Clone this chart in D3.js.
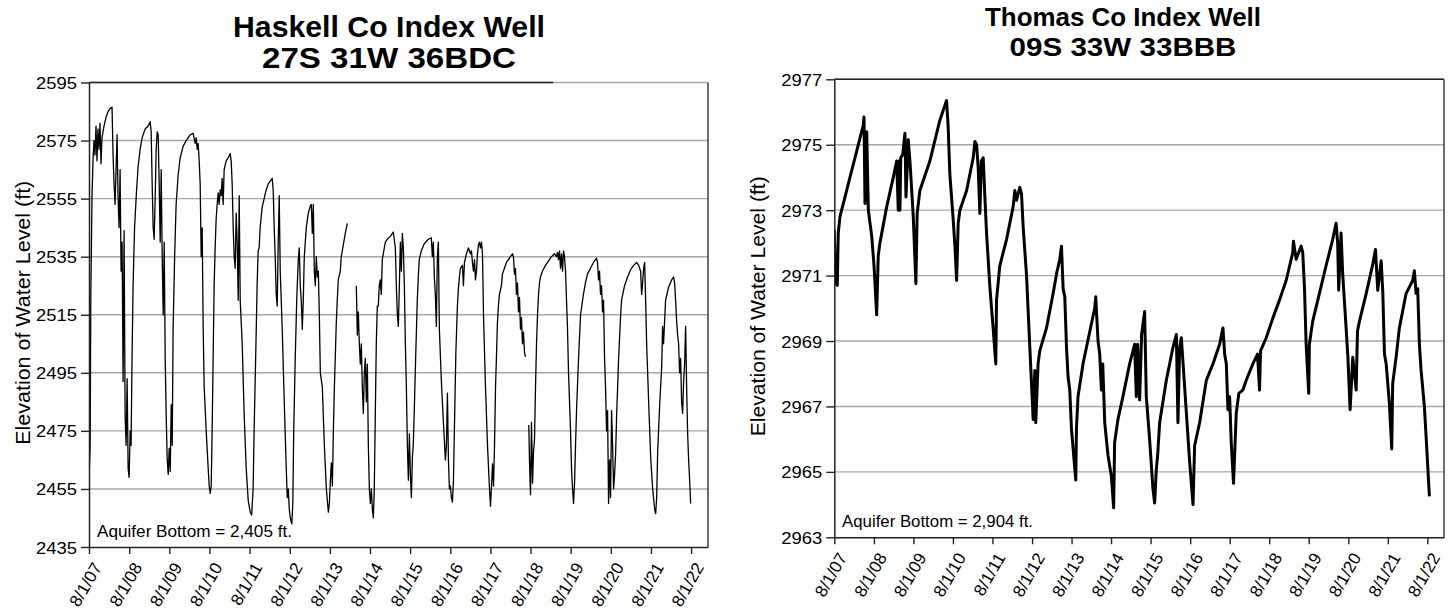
<!DOCTYPE html>
<html>
<head>
<meta charset="utf-8">
<script src="https://cdn.jsdelivr.net/npm/d3@7"></script>
<style>
  body { margin: 0; background: #fff; }
  svg { display: block; }
  text { font-family: "Liberation Sans", Arial, sans-serif; fill: #000; }
</style>
</head>
<body>
<svg id="chart" width="1453" height="611"></svg>
<script>
// ---------------- DATA ----------------
const xTickLabels = ["8/1/07","8/1/08","8/1/09","8/1/10","8/1/11","8/1/12","8/1/13","8/1/14",
                     "8/1/15","8/1/16","8/1/17","8/1/18","8/1/19","8/1/20","8/1/21","8/1/22"];
const xTickYears = [2007,2008,2009,2010,2011,2012,2013,2014,2015,2016,2017,2018,2019,2020,2021,2022];

const haskellYTicks = [2435,2455,2475,2495,2515,2535,2555,2575,2595];
const thomasYTicks  = [2963,2965,2967,2969,2971,2973,2975,2977];

const haskellTitle = ["Haskell Co Index Well", "27S 31W 36BDC"];
const thomasTitle  = ["Thomas Co Index Well", "09S 33W 33BBB"];
const yAxisTitle   = "Elevation of Water Level (ft)";
const haskellNote  = "Aquifer Bottom = 2,405 ft.";
const thomasNote   = "Aquifer Bottom = 2,904 ft.";

// [decimal year, water level elevation ft]  (null = no record)
const haskellReadings = [
[2007.580,2474],[2007.590,2462],[2007.600,2466],[2007.610,2470],[2007.625,2520],[2007.655,2555],[2007.680,2568],[2007.705,2575],[2007.730,2570],[2007.755,2580],[2007.780,2568],[2007.805,2579],[2007.830,2572],[2007.855,2581],[2007.880,2567],[2007.905,2576],[2007.930,2578],[2007.955,2580],[2008.005,2583],[2008.055,2585],[2008.105,2586],[2008.155,2586.5],[2008.180,2570],[2008.205,2560],[2008.230,2553],[2008.255,2565],[2008.280,2577],[2008.305,2555],[2008.330,2545],[2008.355,2565],[2008.380,2530],[2008.405,2540],[2008.430,2492],[2008.455,2544],[2008.480,2480],[2008.505,2470],[2008.530,2493],[2008.555,2462],[2008.580,2459],[2008.605,2475],[2008.628,2470],
[2008.652,2500],[2008.678,2525],[2008.715,2545],[2008.765,2558],[2008.803,2566],[2008.853,2572],[2008.903,2576],[2008.978,2579],[2009.053,2580],[2009.103,2581.5],[2009.128,2578],[2009.153,2560],[2009.178,2545],[2009.203,2541],[2009.228,2555],[2009.253,2572],[2009.278,2578],[2009.303,2577],[2009.328,2560],[2009.353,2540],[2009.378,2565],[2009.403,2535],[2009.428,2515],[2009.453,2540],[2009.478,2500],[2009.503,2480],[2009.528,2465],[2009.553,2460],[2009.578,2469],[2009.603,2461],[2009.628,2484],[2009.653,2470],
[2009.675,2510],[2009.713,2535],[2009.750,2553],[2009.800,2563],[2009.850,2569],[2009.925,2573],[2010.000,2575],[2010.100,2577],[2010.175,2577.5],[2010.225,2574],[2010.250,2576],[2010.275,2572],[2010.300,2574],[2010.325,2568],[2010.350,2560],[2010.375,2535],[2010.400,2545],[2010.425,2510],[2010.450,2490],[2010.500,2475],[2010.550,2462],[2010.575,2456],[2010.600,2453.5],[2010.625,2456],
[2010.648,2475],[2010.673,2500],[2010.698,2525],[2010.723,2538],[2010.748,2548],[2010.773,2553],[2010.798,2557],[2010.823,2553],[2010.848,2558],[2010.873,2556],[2010.898,2562],[2010.923,2553],[2010.948,2565],[2010.998,2568],[2011.048,2569],[2011.098,2570.5],[2011.123,2568],[2011.148,2560],[2011.173,2545],[2011.198,2535],[2011.223,2531],[2011.248,2550],[2011.273,2540],[2011.298,2520],[2011.323,2556],[2011.348,2520],[2011.398,2505],[2011.448,2480],[2011.498,2462],[2011.548,2451],[2011.598,2447],[2011.633,2446],
[2011.670,2455],[2011.695,2475],[2011.733,2500],[2011.770,2525],[2011.795,2537],[2011.820,2538],[2011.845,2545],[2011.895,2552],[2011.945,2555],[2011.995,2558],[2012.045,2560],[2012.095,2561],[2012.145,2562],[2012.170,2558],[2012.195,2545],[2012.220,2535],[2012.245,2522],[2012.270,2518],[2012.295,2540],[2012.320,2556],[2012.345,2530],[2012.395,2510],[2012.445,2485],[2012.495,2462],[2012.520,2452],[2012.545,2455],[2012.570,2448],[2012.595,2445],[2012.633,2443],[2012.658,2450],
[2012.680,2475],[2012.718,2500],[2012.755,2520],[2012.793,2534],[2012.818,2538],[2012.843,2525],[2012.868,2520],[2012.893,2510],[2012.918,2520],[2012.943,2535],[2012.993,2545],[2013.043,2550],[2013.093,2552.5],[2013.118,2553],[2013.143,2543],[2013.168,2553],[2013.193,2530],[2013.218,2525],[2013.243,2535],[2013.268,2528],[2013.293,2530],[2013.318,2515],[2013.343,2495],[2013.393,2490],[2013.443,2470],[2013.493,2455],[2013.543,2447],[2013.568,2450],[2013.593,2458],[2013.618,2464],[2013.643,2456],[2013.668,2475],[2013.693,2490],
[2013.715,2500],[2013.740,2512],[2013.765,2520],[2013.790,2527],[2013.840,2530],[2013.865,2535],[2013.915,2539],[2013.965,2543],[2014.015,2546.5],[2014.100,null],[2014.240,2525],[2014.265,2508],[2014.290,2516],[2014.315,2505],[2014.340,2498],[2014.365,2505],[2014.390,2490],[2014.415,2481],[2014.440,2495],[2014.465,2500],[2014.490,2485],[2014.515,2498],[2014.540,2470],[2014.565,2455],[2014.590,2450],[2014.615,2455],[2014.640,2448],[2014.665,2445],
[2014.688,2455],[2014.713,2480],[2014.738,2505],[2014.763,2518],[2014.788,2518],[2014.813,2525],[2014.838,2527],[2014.863,2522],[2014.888,2534],[2014.913,2536],[2014.938,2538],[2014.963,2540],[2015.013,2541],[2015.088,2542],[2015.163,2543.5],[2015.213,2538],[2015.238,2525],[2015.263,2515],[2015.288,2511],[2015.313,2525],[2015.338,2540],[2015.363,2530],[2015.388,2543],[2015.413,2538],[2015.438,2525],[2015.463,2505],[2015.488,2490],[2015.513,2470],[2015.538,2458],[2015.563,2474],[2015.588,2460],[2015.613,2452],[2015.638,2466],
[2015.660,2470],[2015.685,2482],[2015.723,2502],[2015.760,2520],[2015.785,2528],[2015.810,2534],[2015.860,2537],[2015.935,2539.5],[2016.035,2541],[2016.110,2541.5],[2016.135,2535],[2016.160,2540],[2016.185,2528],[2016.210,2522],[2016.235,2511],[2016.260,2535],[2016.285,2540],[2016.310,2510],[2016.360,2492],[2016.410,2478],[2016.460,2465],[2016.485,2470],[2016.510,2488],[2016.535,2465],[2016.560,2455],[2016.585,2456],[2016.610,2452],[2016.635,2450.5],[2016.660,2458],
[2016.683,2475],[2016.720,2502],[2016.758,2518],[2016.783,2524],[2016.808,2528],[2016.833,2531],[2016.883,2532],[2016.908,2525],[2016.933,2533],[2016.983,2536],[2017.033,2538],[2017.083,2536],[2017.108,2537],[2017.133,2533],[2017.158,2530],[2017.183,2534],[2017.208,2527],[2017.233,2530],[2017.258,2536],[2017.283,2539],[2017.308,2540],[2017.333,2538],[2017.358,2540],[2017.383,2536],[2017.408,2515],[2017.458,2490],[2017.508,2470],[2017.558,2455],[2017.583,2449],[2017.608,2456],[2017.633,2463.6],[2017.658,2456],[2017.683,2470],[2017.708,2490],
[2017.730,2500],[2017.755,2512],[2017.780,2518],[2017.805,2522],[2017.830,2523.5],[2017.855,2525],[2017.880,2529],[2017.930,2531],[2017.980,2533],[2018.030,2534],[2018.080,2535],[2018.130,2536],[2018.155,2535],[2018.180,2529],[2018.205,2531],[2018.230,2522],[2018.255,2526],[2018.280,2516],[2018.305,2521],[2018.330,2510],[2018.355,2514],[2018.380,2505],[2018.405,2509],[2018.430,2502],[2018.455,2500.5],[2018.490,null],[2018.538,2477],[2018.555,2465],[2018.580,2453],[2018.605,2478],[2018.630,2457],[2018.655,2468],[2018.680,2472],[2018.705,2490],[2018.730,2505],[2018.755,2515],[2018.780,2522],[2018.805,2526],
[2018.828,2528],[2018.878,2530],[2018.953,2532],[2019.028,2533.5],[2019.103,2535],[2019.178,2536],[2019.228,2535],[2019.253,2536.5],[2019.278,2534],[2019.303,2537],[2019.328,2531],[2019.353,2536],[2019.378,2530],[2019.403,2537],[2019.428,2535],[2019.453,2530],[2019.478,2520],[2019.503,2510],[2019.528,2495],[2019.553,2485],[2019.578,2475],[2019.603,2462],[2019.628,2455],[2019.653,2450],[2019.678,2457],[2019.703,2470],[2019.728,2482],[2019.778,2500],[2019.828,2515],
[2019.900,2522],[2019.950,2526],[2020.000,2529],[2020.075,2531],[2020.150,2533],[2020.225,2534.5],[2020.250,2533],[2020.275,2527],[2020.300,2530],[2020.325,2522],[2020.350,2525],[2020.375,2516],[2020.400,2520],[2020.425,2500],[2020.450,2490],[2020.475,2475],[2020.500,2482],[2020.525,2450],[2020.550,2465],[2020.575,2452],[2020.600,2482],[2020.625,2470],[2020.650,2455],[2020.675,2460],[2020.700,2467],[2020.725,2480],[2020.775,2500],[2020.825,2515],
[2020.848,2520],[2020.923,2525],[2020.998,2528],[2021.073,2530.5],[2021.148,2532],[2021.223,2533],[2021.273,2532],[2021.323,2530],[2021.348,2522],[2021.373,2526],[2021.398,2531],[2021.423,2533],[2021.448,2520],[2021.473,2505],[2021.523,2485],[2021.573,2466],[2021.623,2455],[2021.673,2448],[2021.698,2446.5],[2021.723,2452],[2021.748,2468],[2021.798,2484],[2021.848,2497],
[2021.870,2511],[2021.895,2505],[2021.945,2520],[2022.020,2524.5],[2022.095,2527],[2022.145,2528],[2022.170,2526],[2022.195,2520],[2022.220,2513],[2022.245,2508],[2022.270,2505],[2022.295,2495],[2022.320,2500],[2022.345,2485],[2022.370,2481],[2022.395,2492],[2022.420,2498],[2022.445,2511],[2022.470,2490],[2022.495,2474],[2022.520,2465],[2022.545,2458],[2022.570,2450]
];

const thomasReadings = [
[2007.580,2972.4],[2007.598,2971.5],[2007.623,2970.8],[2007.656,2970.7],[2007.681,2972.3],[2007.724,2972.8],[2007.851,2973.4],[2007.977,2974.0],[2008.104,2974.6],[2008.230,2975.2],[2008.314,2975.6],[2008.332,2975.85],[2008.357,2973.2],[2008.400,2975.4],[2008.441,2973.0],[2008.527,2972.2],[2008.585,2971.3],[2008.651,2969.8],
[2008.691,2971.6],[2008.734,2972.0],[2008.904,2973.1],[2009.071,2974.0],[2009.157,2974.5],[2009.197,2973.0],[2009.215,2974.5],[2009.240,2973.0],[2009.260,2974.6],[2009.309,2974.7],[2009.367,2975.35],[2009.392,2973.4],[2009.450,2975.15],[2009.493,2974.5],[2009.577,2972.8],[2009.643,2970.75],
[2009.676,2972.9],[2009.744,2973.6],[2009.997,2974.5],[2010.250,2975.75],[2010.420,2976.35],[2010.460,2975.55],[2010.503,2974.1],[2010.588,2972.7],[2010.631,2971.9],[2010.674,2970.85],
[2010.714,2972.6],[2010.757,2973.0],[2010.927,2973.6],[2011.094,2974.6],[2011.137,2975.1],[2011.180,2975.0],[2011.220,2974.3],[2011.263,2972.9],[2011.300,2974.5],[2011.347,2974.6],[2011.390,2973.4],[2011.432,2972.3],[2011.516,2970.65],[2011.598,2969.4],[2011.666,2968.3],
[2011.684,2970.25],[2011.767,2971.3],[2011.937,2972.1],[2012.104,2973.1],[2012.147,2973.6],[2012.190,2973.3],[2012.273,2973.7],[2012.316,2973.5],[2012.357,2972.5],[2012.443,2971.0],[2012.526,2968.8],[2012.610,2966.6],[2012.651,2968.1],[2012.676,2966.5],
[2012.734,2968.3],[2012.777,2968.7],[2012.947,2969.4],[2013.114,2970.45],[2013.200,2971.05],[2013.283,2971.5],[2013.326,2971.9],[2013.367,2970.6],[2013.410,2970.35],[2013.453,2968.8],[2013.493,2967.9],[2013.536,2967.5],[2013.579,2966.3],[2013.688,2964.75],
[2013.704,2966.3],[2013.744,2967.3],[2013.871,2968.3],[2013.957,2968.8],[2014.167,2970.0],[2014.193,2970.35],[2014.251,2969.0],[2014.294,2968.6],[2014.337,2967.5],[2014.370,2968.3],[2014.421,2966.5],[2014.504,2965.5],[2014.590,2964.85],[2014.646,2963.9],
[2014.671,2965.9],[2014.755,2966.6],[2014.881,2967.3],[2015.051,2968.3],[2015.177,2968.9],[2015.220,2967.3],[2015.253,2968.9],[2015.304,2967.2],[2015.354,2969.2],[2015.430,2969.9],[2015.473,2967.3],[2015.556,2966.0],[2015.640,2964.5],[2015.684,2964.05],
[2015.727,2965.1],[2015.760,2965.5],[2015.810,2966.5],[2015.980,2967.8],[2016.147,2968.8],[2016.233,2969.2],[2016.273,2966.5],[2016.316,2968.8],[2016.359,2969.1],[2016.392,2968.5],[2016.486,2966.8],[2016.569,2965.3],[2016.653,2964.0],
[2016.694,2965.8],[2016.820,2966.5],[2016.990,2967.8],[2017.157,2968.3],[2017.326,2968.9],[2017.410,2969.4],[2017.453,2968.6],[2017.496,2968.3],[2017.536,2966.9],[2017.579,2967.3],[2017.620,2965.9],[2017.678,2964.65],
[2017.747,2966.8],[2017.813,2967.4],[2017.914,2967.5],[2018.000,2967.8],[2018.167,2968.3],[2018.286,2968.6],[2018.336,2967.5],[2018.362,2968.7],[2018.506,2969.1],[2018.673,2969.7],
[2018.841,2970.25],[2019.010,2970.85],[2019.177,2971.7],[2019.195,2972.05],[2019.263,2971.5],[2019.390,2971.9],[2019.430,2971.7],[2019.473,2970.65],[2019.516,2968.9],[2019.582,2967.4],
[2019.598,2968.9],[2019.681,2969.6],[2019.851,2970.45],[2020.020,2971.3],[2020.187,2972.1],[2020.273,2972.6],[2020.313,2972.0],[2020.339,2970.55],[2020.399,2972.3],[2020.440,2971.05],[2020.526,2969.4],[2020.572,2968.5],[2020.627,2966.9],
[2020.694,2968.5],[2020.780,2967.5],[2020.813,2969.3],[2020.863,2969.6],[2021.033,2970.45],[2021.200,2971.35],[2021.268,2971.8],[2021.326,2970.55],[2021.412,2971.45],[2021.453,2970.5],[2021.496,2968.6],[2021.539,2968.3],[2021.620,2967.1],[2021.679,2965.7],
[2021.704,2967.7],[2021.790,2968.5],[2021.873,2969.4],[2022.043,2970.45],[2022.210,2970.85],[2022.253,2971.15],[2022.296,2970.45],[2022.337,2970.6],[2022.380,2968.9],[2022.423,2968.1],[2022.506,2967.0],[2022.549,2966.1],[2022.633,2964.25]
];

// ---------------- DRAWING ----------------
const svg = d3.select("#chart");

function decToDate(t) {
  const y = Math.floor(t);
  const a = Date.UTC(y, 0, 1), b = Date.UTC(y + 1, 0, 1);
  return new Date(a + (t - y) * (b - a));
}

const xStart = new Date(Date.UTC(2007, 7, 1));
const xEnd = new Date(Date.UTC(2023, 0, 2));

const panels = [
  { readings: haskellReadings, yTicks: haskellYTicks, title: haskellTitle, note: haskellNote,
    left: 89, right: 708, top: 82.5, bottom: 547,
    titleX: 389, titleY: [37, 68], titleSize: 30, titleLen: [312, 254],
    noteX: 97, noteY: 537, noteLen: 195,
    axisTitleX: 30, axisTitleLen: 264, lineWidth: 1.3, topDarkFrac: 0.75 },
  { readings: thomasReadings, yTicks: thomasYTicks, title: thomasTitle, note: thomasNote,
    left: 834.3, right: 1444, top: 79.3, bottom: 537.3,
    titleX: 1123, titleY: [26, 56], titleSize: 25, titleLen: [276, 227],
    noteX: 842, noteY: 527, noteLen: 191,
    axisTitleX: 765, axisTitleLen: 260, lineWidth: 3, topDarkFrac: 1 }
];

panels.forEach((p, i) => {
  const g = svg.append("g");
  const x = d3.scaleUtc().domain([xStart, xEnd]).range([p.left, p.right]);
  const y = d3.scaleLinear().domain([p.yTicks[0], p.yTicks[p.yTicks.length - 1]]).range([p.bottom, p.top]);

  // gridlines
  g.append("g").selectAll("line").data(p.yTicks.slice(1)).join("line")
    .attr("x1", p.left).attr("x2", p.right)
    .attr("y1", d => y(d)).attr("y2", d => y(d))
    .attr("stroke", "#a8a8a8").attr("stroke-width", 1.4);

  // clip
  const clipId = "clip" + i;
  g.append("clipPath").attr("id", clipId).append("rect")
    .attr("x", p.left).attr("y", p.top - 2).attr("width", p.right - p.left).attr("height", p.bottom - p.top + 2);

  // data line
  const line = d3.line()
    .defined(d => d[1] !== null)
    .x(d => x(decToDate(d[0])))
    .y(d => y(d[1]));
  g.append("path").datum(p.readings)
    .attr("clip-path", `url(#${clipId})`)
    .attr("d", line)
    .attr("fill", "none").attr("stroke", "#000")
    .attr("stroke-width", p.lineWidth)
    .attr("stroke-linejoin", "round");

  // frame: top (dark part), right border
  g.append("line").attr("x1", p.left).attr("x2", p.left + (p.right - p.left) * p.topDarkFrac)
    .attr("y1", p.top).attr("y2", p.top).attr("stroke", "#222").attr("stroke-width", 1.4);
  g.append("line").attr("x1", p.right).attr("x2", p.right)
    .attr("y1", p.top).attr("y2", p.bottom).attr("stroke", "#333").attr("stroke-width", 1.4);

  // y axis
  const yAxis = d3.axisLeft(y).tickValues(p.yTicks).tickSize(8).tickSizeOuter(0).tickFormat(d3.format("d"));
  const ya = g.append("g").attr("transform", `translate(${p.left},0)`).call(yAxis);
  ya.select(".domain").attr("stroke", "#222").attr("stroke-width", 1.5);
  ya.selectAll(".tick line").attr("stroke", "#222").attr("stroke-width", 1.4);
  ya.selectAll(".tick text")
    .attr("x", -12).attr("dy", null).attr("y", 6)
    .style("font-size", "17px").style("font-family", '"Liberation Sans", Arial, sans-serif')
    .attr("fill", "#000")
    .attr("textLength", 41).attr("lengthAdjust", "spacingAndGlyphs");

  // x axis
  const tickDates = xTickYears.map(yr => new Date(Date.UTC(yr, 7, 1)));
  const xAxis = d3.axisBottom(x).tickValues(tickDates).tickSize(7).tickSizeOuter(0)
    .tickFormat((d, k) => xTickLabels[k]);
  const xa = g.append("g").attr("transform", `translate(0,${p.bottom})`).call(xAxis);
  xa.select(".domain").attr("stroke", "#222").attr("stroke-width", 1.5);
  xa.selectAll(".tick line").attr("stroke", "#222").attr("stroke-width", 1.4);
  xa.selectAll(".tick text")
    .attr("y", null).attr("dy", null)
    .attr("text-anchor", "end")
    .attr("transform", "translate(13,20) rotate(-60)")
    .style("font-size", "17px").style("font-family", '"Liberation Sans", Arial, sans-serif')
    .attr("fill", "#000");

  // titles
  p.title.forEach((t, k) => {
    g.append("text").attr("x", p.titleX).attr("y", p.titleY[k])
      .attr("text-anchor", "middle")
      .style("font-size", p.titleSize + "px").style("font-weight", "bold")
      .attr("textLength", p.titleLen[k]).attr("lengthAdjust", "spacingAndGlyphs")
      .text(t);
  });

  // y axis title
  const cy = (p.top + p.bottom) / 2 - 2;
  g.append("text")
    .attr("transform", `translate(${p.axisTitleX},${cy}) rotate(-90)`)
    .attr("text-anchor", "middle")
    .style("font-size", "19.5px")
    .attr("textLength", p.axisTitleLen).attr("lengthAdjust", "spacingAndGlyphs")
    .text(yAxisTitle);

  // aquifer note
  g.append("text").attr("x", p.noteX).attr("y", p.noteY)
    .style("font-size", "16.5px")
    .attr("textLength", p.noteLen).attr("lengthAdjust", "spacingAndGlyphs")
    .text(p.note);
});
</script>
</body>
</html>
